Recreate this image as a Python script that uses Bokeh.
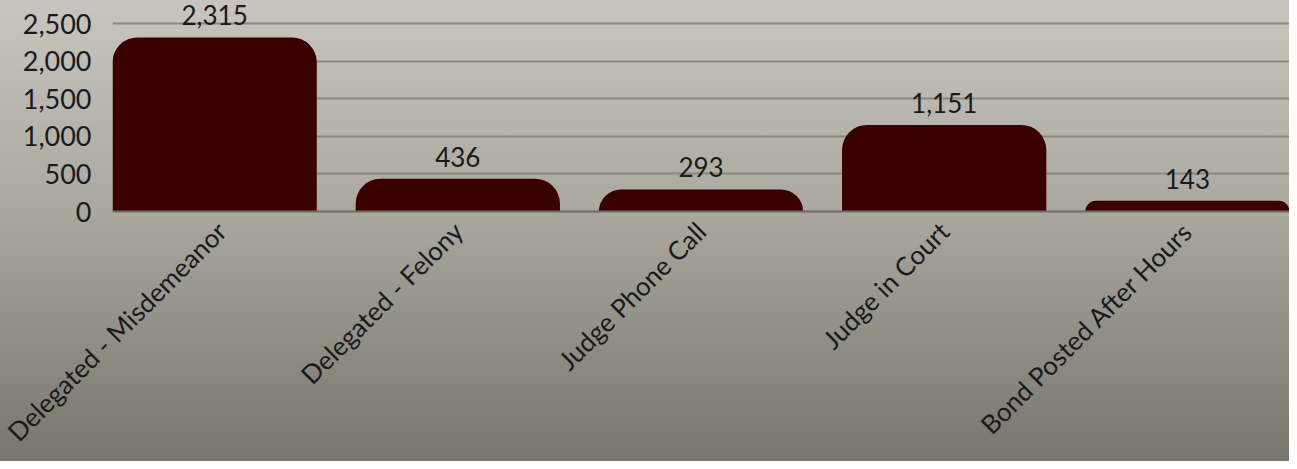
from bokeh.plotting import figure
from bokeh.models import Range1d, FixedTicker, NumeralTickFormatter, ColumnDataSource
from bokeh.core.properties import value
from bokeh.embed import file_html
from bokeh.resources import INLINE

categories = ["Delegated - Misdemeanor", "Delegated - Felony", "Judge Phone Call",
              "Judge in Court", "Bond Posted After Hours"]
counts = [2315, 436, 293, 1151, 143]
y_ticks = [0, 500, 1000, 1500, 2000, 2500]

FONT = "Lato"
TXT = "#1a1a1a"

xs = list(range(len(categories)))
src = ColumnDataSource(dict(x=xs, top=counts, lab=[f"{v:,}" for v in counts]))

p = figure(width=1289, height=461, output_backend="svg", toolbar_location=None,
           x_range=Range1d(-0.42, 4.42), y_range=Range1d(0, 2806),
           min_border_left=112, min_border_right=0, min_border_top=0, min_border_bottom=250,
           styles={"background": "linear-gradient(to bottom, #c8c5be 0%, #aba8a0 45%, #77756c 100%)"})
p.border_fill_alpha = 0
p.background_fill_alpha = 0
p.outline_line_color = None

p.vbar(x="x", top="top", width=0.84, source=src, fill_color="#3a0000", line_color=None,
       border_radius=(25, 25, 0, 0))
p.text(x="x", y="top", text="lab", source=src, text_align="center", text_baseline="middle",
       y_offset=-22, text_font=value(FONT), text_font_size="26px", text_color=TXT)

p.xgrid.grid_line_color = None
p.ygrid.ticker = FixedTicker(ticks=y_ticks[1:])
p.ygrid.grid_line_color = "#8a877f"
p.ygrid.grid_line_width = 2
p.ygrid.level = "underlay"

p.yaxis.ticker = FixedTicker(ticks=y_ticks)
p.yaxis.formatter = NumeralTickFormatter(format="0,0")
p.yaxis.axis_line_color = None
p.yaxis.major_tick_line_color = None
p.yaxis.minor_tick_line_color = None
p.yaxis.major_label_standoff = 15
p.yaxis.major_label_text_font = FONT
p.yaxis.major_label_text_font_size = "27px"
p.yaxis.major_label_text_color = TXT

p.xaxis.ticker = FixedTicker(ticks=xs)
p.xaxis.major_label_overrides = {i: c for i, c in enumerate(categories)}
p.xaxis.major_label_orientation = 0.785398
p.xaxis.axis_line_color = "#6e6b64"
p.xaxis.axis_line_width = 2
p.xaxis.major_tick_line_color = None
p.xaxis.minor_tick_line_color = None
p.xaxis.major_label_standoff = 9
p.xaxis.major_label_text_font = FONT
p.xaxis.major_label_text_font_size = "26px"
p.xaxis.major_label_text_color = TXT

open("out.html", "w").write(file_html(p, INLINE))
